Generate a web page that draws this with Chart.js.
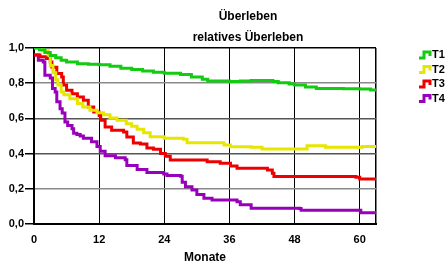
<!DOCTYPE html>
<html>
<head>
<meta charset="utf-8">
<script src="https://cdn.jsdelivr.net/npm/chart.js@4"></script>
<style>
  html, body { margin: 0; padding: 0; background: #fff; }
  #wrap { width: 448px; height: 266px; }
</style>
</head>
<body>
<div id="wrap"><canvas id="survivalChart" width="448" height="266"></canvas></div>
<script>
const seriesNames = ['T1', 'T2', 'T3', 'T4'];
const seriesColors = ['#11cc11', '#e6e600', '#ee0000', '#9900bb'];

// months / relative survival
const t1Months = [0, 1, 2, 3, 4, 5, 6, 8, 10, 12, 14, 16, 18, 20, 22, 24, 27, 29, 31, 32, 36, 38, 40, 42, 44, 45, 47, 48, 50, 52, 57, 60, 62, 63];
const t1Values = [1.0, 0.99, 0.975, 0.958, 0.945, 0.93, 0.92, 0.911, 0.907, 0.905, 0.897, 0.885, 0.878, 0.87, 0.862, 0.856, 0.849, 0.835, 0.823, 0.813, 0.81, 0.812, 0.815, 0.816, 0.81, 0.803, 0.795, 0.79, 0.778, 0.77, 0.769, 0.767, 0.762, 0.758];

const t2Months = [0, 1.5, 2.6, 3, 3.5, 4, 4.4, 5, 5.5, 6.6, 8, 9, 10.3, 11.6, 12.8, 14, 15.3, 17, 18, 19, 20.2, 21.4, 24, 27.5, 28.2, 32, 35, 36.2, 40, 42, 50, 50.3, 53.7, 60.5, 63];
const t2Values = [1.0, 0.985, 0.96, 0.9, 0.86, 0.82, 0.79, 0.75, 0.735, 0.712, 0.684, 0.665, 0.646, 0.632, 0.621, 0.602, 0.589, 0.57, 0.555, 0.538, 0.519, 0.496, 0.487, 0.481, 0.462, 0.462, 0.449, 0.439, 0.436, 0.426, 0.426, 0.445, 0.436, 0.44, 0.439];

const t3Months = [0, 1.1, 2.3, 3, 3.3, 4.2, 5.1, 5.4, 6, 7, 8, 9.1, 10, 11, 12, 12.3, 13.1, 14.3, 16.5, 17.1, 18.3, 19.6, 20.8, 22, 23.3, 24.2, 25.1, 31.9, 34.3, 36.2, 37.4, 43, 43.9, 44.2, 59.3, 60, 63];
const t3Values = [0.96, 0.95, 0.94, 0.92, 0.89, 0.855, 0.835, 0.79, 0.76, 0.74, 0.722, 0.703, 0.665, 0.636, 0.617, 0.59, 0.551, 0.532, 0.523, 0.494, 0.46, 0.455, 0.432, 0.425, 0.4, 0.385, 0.364, 0.354, 0.345, 0.33, 0.317, 0.307, 0.288, 0.27, 0.265, 0.256, 0.25];

const t4Months = [0, 0.8, 1.7, 2, 3, 3.4, 3.9, 4.2, 4.8, 5.2, 5.7, 6.2, 7, 7.3, 7.9, 8.5, 9.1, 10.6, 11.6, 12.2, 13.1, 15, 16.8, 17.1, 19, 20.8, 23.9, 24.5, 27, 27.3, 27.9, 29.1, 30, 31.3, 32.8, 36.2, 37.4, 38, 40, 48.9, 49.2, 60.2, 63];
const t4Values = [0.96, 0.93, 0.92, 0.845, 0.83, 0.77, 0.75, 0.695, 0.655, 0.63, 0.58, 0.56, 0.541, 0.515, 0.508, 0.5, 0.487, 0.468, 0.44, 0.414, 0.388, 0.377, 0.365, 0.332, 0.31, 0.293, 0.284, 0.276, 0.272, 0.237, 0.212, 0.193, 0.168, 0.147, 0.137, 0.136, 0.127, 0.11, 0.09, 0.088, 0.078, 0.064, 0.064];

const xTicks = [0, 12, 24, 36, 48, 60];
const xMax = 63;
const yTickStep = 0.2;

function toPoints(months, values) {
    return months.map((m, i) => ({ x: m, y: values[i] }));
}

const allMonths = [t1Months, t2Months, t3Months, t4Months];
const allValues = [t1Values, t2Values, t3Values, t4Values];

const boldFont = { family: '"Liberation Sans", Arial, sans-serif', weight: 'bold', size: 11 };

// titles and the step-glyph legend on the right
const decorations = {
    id: 'decorations',
    afterDraw(chart) {
        const ctx = chart.ctx;
        ctx.save();
        ctx.fillStyle = '#000';
        ctx.textAlign = 'center';
        ctx.textBaseline = 'middle';
        ctx.font = 'bold 12px "Liberation Sans", Arial, sans-serif';
        ctx.fillText('Überleben', 248, 17);
        ctx.fillText('relatives Überleben', 248, 38);

        ctx.textAlign = 'left';
        ctx.font = 'bold 11px "Liberation Sans", Arial, sans-serif';
        chart.data.datasets.forEach((ds, i) => {
            const y = 55 + i * 14.5;
            ctx.strokeStyle = ds.borderColor;
            ctx.lineWidth = 3;
            ctx.beginPath();
            ctx.moveTo(419, y + 3);
            ctx.lineTo(424, y + 3);
            ctx.lineTo(424, y - 3);
            ctx.lineTo(430, y - 3);
            ctx.lineTo(430, y + 1);
            ctx.stroke();
            ctx.fillStyle = '#000';
            ctx.fillText(ds.label, 432, y);
        });
        ctx.restore();
    }
};

const ctxSurvival = document.getElementById('survivalChart').getContext('2d');
const survivalChart = new Chart(ctxSurvival, {
    type: 'line',
    data: {
        datasets: seriesNames.map((name, i) => ({
            label: name,
            data: toPoints(allMonths[i], allValues[i]),
            borderColor: seriesColors[i],
            backgroundColor: seriesColors[i],
            borderWidth: 3,
            pointRadius: 0,
            stepped: true,
            fill: false
        }))
    },
    options: {
        responsive: false,
        animation: false,
        layout: { padding: { top: 48, right: 72, left: 0, bottom: 0 } },
        plugins: {
            legend: { display: false },
            title: { display: false },
            tooltip: { enabled: false }
        },
        scales: {
            x: {
                type: 'linear',
                min: 0,
                max: xMax,
                afterFit(scale) { scale.height = 42; },
                afterBuildTicks(scale) {
                    scale.ticks = xTicks.concat([xMax]).map((v) => ({ value: v }));
                },
                border: { color: '#000', width: 2 },
                grid: {
                    drawTicks: false,
                    color: (c) => (c.tick && c.tick.value === 0 ? 'rgba(0,0,0,0)' : '#000'),
                    lineWidth: (c) => (c.tick && c.tick.value === xMax ? 1.5 : 1)
                },
                ticks: {
                    padding: 9,
                    color: '#000',
                    font: boldFont,
                    maxRotation: 0,
                    autoSkip: false,
                    callback: (v) => (xTicks.includes(v) ? String(v) : '')
                },
                title: {
                    display: true,
                    text: 'Monate',
                    color: '#000',
                    font: { family: '"Liberation Sans", Arial, sans-serif', weight: 'bold', size: 12 },
                    padding: { top: 0, bottom: 1 }
                }
            },
            y: {
                min: 0,
                max: 1,
                afterFit(scale) { scale.width = 34; },
                border: { color: '#000', width: 2 },
                grid: {
                    tickLength: 9,
                    tickColor: '#000',
                    color: (c) => {
                        const v = Math.round(c.tick.value * 10) / 10;
                        if (v === 0) return 'rgba(0,0,0,0)';
                        if (v === 1) return '#000';
                        if (v === 0.4 || v === 0.6) return '#555';
                        return '#8a8a8a';
                    },
                    lineWidth: 1.5
                },
                ticks: {
                    stepSize: yTickStep,
                    padding: 1,
                    color: '#000',
                    font: boldFont,
                    callback: (v) => v.toFixed(1).replace('.', ',')
                }
            }
        }
    },
    plugins: [decorations]
});
</script>
</body>
</html>
